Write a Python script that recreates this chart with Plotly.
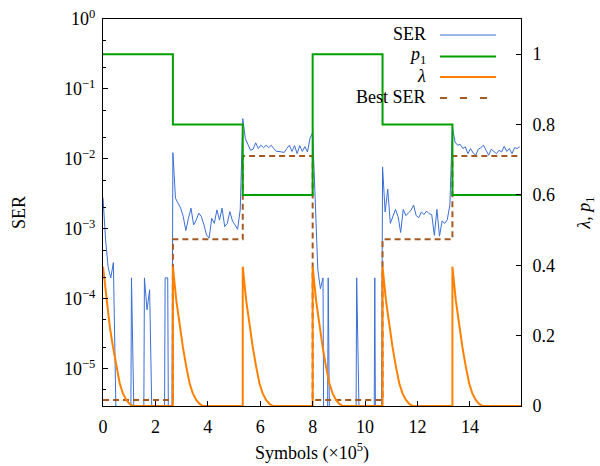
import plotly.graph_objects as go

# ---------------- data (x in units of 1e5 symbols) ----------------
switch_x = [0.0, 2.667, 5.333, 8.0, 10.667, 13.333]
end_x = 16.0
p1_levels = [1.0, 0.8, 0.6, 1.0, 0.8, 0.6]
best_ser_levels = [3.6e-6, 7.1e-4, 1.1e-2, 3.6e-6, 7.1e-4, 1.1e-2]

sample_step = 0.0988  # spacing of SER samples inside a segment

ser_seg1 = [2.8e-3, 7e-4, 2.8e-4, 2.0e-4, 3.3e-4, 0, 0, 0, 0, 0, 0, 2.0e-4, 0, 0,
            0, 0, 2.0e-4, 7e-5, 1.35e-4, 0, 0, 0, 0, 0, 2.0e-4, 2.0e-4, 0]
ser_seg2 = [1.23e-2, 2.75e-3, 2.33e-3, 1.98e-3, 1.5e-3, 9.5e-4, 1.42e-3, 1.98e-3,
            1.14e-3, 1.34e-3, 1.68e-3, 1.5e-3, 1.14e-3, 8.2e-4, 7.4e-4, 1.42e-3,
            1.2e-3, 1.87e-3, 1.34e-3, 1.98e-3, 1.08e-3, 1.2e-3, 1.77e-3, 1.3e-3,
            1.14e-3, 9.9e-4, 1.87e-3]
ser_seg3 = [3.77e-2, 1.95e-2, 1.57e-2, 1.33e-2, 1.38e-2, 1.7e-2, 1.41e-2, 1.57e-2,
            1.45e-2, 1.57e-2, 1.45e-2, 1.57e-2, 1.41e-2, 1.28e-2, 1.28e-2, 1.26e-2,
            1.24e-2, 1.41e-2, 1.57e-2, 1.28e-2, 1.55e-2, 1.19e-2, 1.55e-2, 1.28e-2,
            1.5e-2, 1.26e-2, 2.0e-2]
ser_seg4 = [2.37e-2, 2.0e-3, 2.6e-4, 1.4e-4, 2.0e-4, 0, 2.0e-4, 0, 0, 0, 0, 0, 0, 0,
            0, 0, 0, 2.0e-4, 0, 0, 0, 0, 0, 0, 2.0e-4, 0, 0]
ser_seg5 = [7.7e-3, 1.75e-3, 3.7e-3, 1.2e-3, 1.5e-3, 1.9e-3, 1.5e-3, 8.9e-4, 1.9e-3,
            1.55e-3, 1.7e-3, 1.85e-3, 2.2e-3, 1.55e-3, 1.45e-3, 1.75e-3, 1.6e-3,
            1.8e-3, 1.65e-3, 1.6e-3, 8.1e-4, 1.9e-3, 7.9e-4, 1.3e-3, 1.2e-3,
            1.35e-3, 2.2e-3]
ser_seg6 = [2.86e-2, 1.75e-2, 1.57e-2, 1.62e-2, 1.41e-2, 1.49e-2, 1.19e-2, 1.41e-2,
            1.22e-2, 1.13e-2, 1.38e-2, 1.45e-2, 1.57e-2, 1.33e-2, 1.13e-2, 1.38e-2,
            1.26e-2, 1.19e-2, 1.33e-2, 1.26e-2, 1.52e-2, 1.28e-2, 1.41e-2, 1.19e-2,
            1.45e-2, 1.41e-2, 1.49e-2]
ser_segments = [ser_seg1, ser_seg2, ser_seg3, ser_seg4, ser_seg5, ser_seg6]

# lambda decay after each switch: offset from switch, value
lam_offsets = [0.0, 0.13, 0.26, 0.38, 0.51, 0.64, 0.76, 0.89, 1.02, 1.15]
lam_values = [0.396, 0.30, 0.225, 0.168, 0.112, 0.064, 0.036, 0.017, 0.006, 0.0]

x_ticks = [0, 2, 4, 6, 8, 10, 12, 14]
y_ticks = [1e0, 1e-1, 1e-2, 1e-3, 1e-4, 1e-5]
y_ticktext = ["10<sup>0</sup>", "10<sup>−1</sup>", "10<sup>−2</sup>",
              "10<sup>−3</sup>", "10<sup>−4</sup>", "10<sup>−5</sup>"]
y2_ticks = [0, 0.2, 0.4, 0.6, 0.8, 1.0]
y2_ticktext = ["0", "0.2", "0.4", "0.6", "0.8", "1"]

# ---------------- build series ----------------
ZERO_FLOOR = 1e-12  # zero error rate drawn as a drop below the log axis
ser_x, ser_y = [], []
for s, seg in zip(switch_x, ser_segments):
    for j, v in enumerate(seg):
        ser_x.append(s + j * sample_step)
        ser_y.append(v if v > 0 else ZERO_FLOOR)

lam_x, lam_y = [], []
for s in switch_x:
    if s > 0:
        lam_x.append(s)
        lam_y.append(0.0)
    for off, v in zip(lam_offsets, lam_values):
        lam_x.append(s + off)
        lam_y.append(v)
lam_x.append(end_x)
lam_y.append(0.0)

step_x = switch_x + [end_x]
p1_y = p1_levels + [p1_levels[-1]]
best_y = best_ser_levels + [best_ser_levels[-1]]

C_SER = "#3b6fd6"
C_P1 = "#00a000"
C_LAM = "#ff8000"
C_BEST = "#a65a23"
BEST_DASH = "6px,4px"

fig = go.Figure()
fig.add_trace(go.Scatter(x=ser_x, y=ser_y, mode="lines", name="SER",
                         line=dict(color=C_SER, width=1), yaxis="y"))
fig.add_trace(go.Scatter(x=step_x, y=best_y, mode="lines", name="Best SER",
                         line=dict(color=C_BEST, width=2, dash=BEST_DASH, shape="hv"),
                         yaxis="y"))
fig.add_trace(go.Scatter(x=step_x, y=p1_y, mode="lines", name="p1",
                         line=dict(color=C_P1, width=2, shape="hv"), yaxis="y2"))
fig.add_trace(go.Scatter(x=lam_x, y=lam_y, mode="lines", name="λ",
                         line=dict(color=C_LAM, width=2), yaxis="y2"))

FONT = "'Liberation Serif', 'DejaVu Serif', serif"
fs = 18

# ---------------- custom legend (text left of sample line) ----------------
L, R, T, B = 103.3, 521.0, 19.0, 406.0
def px2paper_x(px):
    return (px - L) / (R - L)
def px2paper_y(py):
    return (B - py) / (B - T)

legend_rows = [
    ("SER", C_SER, 1, "solid", 34),
    ("<i>p</i><sub>1</sub>", C_P1, 2, "solid", 55.5),
    ("<i>λ</i>", C_LAM, 2, "solid", 76),
    ("Best SER", C_BEST, 2, "7px,13px", 97),
]
annotations = []
shapes = []
for text, col, w, dash, py in legend_rows:
    annotations.append(dict(x=px2paper_x(428), y=px2paper_y(py), xref="paper", yref="paper",
                            text=text, showarrow=False, xanchor="right", yanchor="middle",
                            font=dict(family=FONT, size=fs, color="black")))
    shapes.append(dict(type="line", xref="paper", yref="paper",
                       x0=px2paper_x(440), x1=px2paper_x(496),
                       y0=px2paper_y(py + 1), y1=px2paper_y(py + 1),
                       line=dict(color=col, width=w, dash=dash)))

fig.update_layout(
    width=600, height=466,
    margin=dict(l=103, r=79, t=19, b=60, autoexpand=False),
    paper_bgcolor="white", plot_bgcolor="white",
    showlegend=False,
    font=dict(family=FONT, size=fs, color="black"),
    annotations=annotations,
    shapes=shapes,
    xaxis=dict(range=[0, 15.95], tickvals=x_ticks, ticks="inside", ticklen=5,
               tickcolor="black", showline=True, linecolor="black", linewidth=1,
               mirror=True, showgrid=False, zeroline=False, ticklabelstandoff=4,
               automargin=False,
               tickfont=dict(family=FONT, size=fs, color="black"),
               title=dict(text="Symbols (×10<sup>5</sup>)", standoff=10,
                          font=dict(family=FONT, size=fs, color="black"))),
    yaxis=dict(type="log", range=[-5.53, 0], tickvals=y_ticks, ticktext=y_ticktext,
               ticks="inside", ticklen=5, tickcolor="black",
               minor=dict(dtick="D2", ticks="inside", ticklen=3, tickcolor="black"),
               showline=True, linecolor="black", linewidth=1, showgrid=False,
               zeroline=False, ticklabelstandoff=3, automargin=False,
               tickfont=dict(family=FONT, size=fs, color="black"),
               title=dict(text="SER", standoff=33,
                          font=dict(family=FONT, size=fs, color="black"))),
    yaxis2=dict(overlaying="y", side="right", range=[0, 1.1], tickvals=y2_ticks,
                ticktext=y2_ticktext, ticks="inside", ticklen=5, tickcolor="black",
                showline=True, linecolor="black", linewidth=1, showgrid=False,
                zeroline=False, ticklabelstandoff=7, automargin=False,
                tickfont=dict(family=FONT, size=fs, color="black"),
                title=dict(text="<i>λ</i>, <i>p</i><sub>1</sub>", standoff=23,
                           font=dict(family=FONT, size=fs, color="black"))),
)

fig.write_html("out.html",
               config={"displayModeBar": False},
               post_script="document.body.style.margin='0px';"
                           "document.body.style.overflow='hidden';")
